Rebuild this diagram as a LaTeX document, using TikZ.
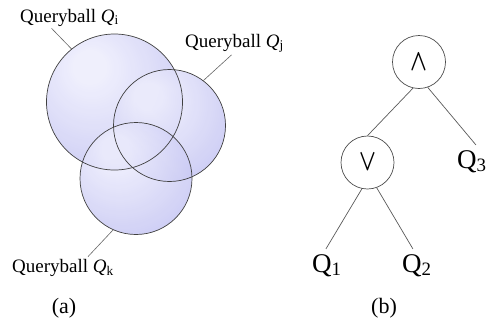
\documentclass[tikz,border=0pt]{standalone}
\usepackage{fontspec}
\setmainfont{Liberation Serif}
\usetikzlibrary{calc}
\definecolor{ballLight}{RGB}{236,236,252}
\definecolor{ballDark}{RGB}{168,168,236}
\colorlet{ballEdge}{black!75}
\colorlet{leadGray}{black!60}
\pgfdeclareradialshading{ballshade}{\pgfpoint{-10bp}{14bp}}{color(0bp)=(ballLight); color(6bp)=(ballLight); color(58bp)=(ballDark); color(80bp)=(ballDark)}
\newcommand{\opsym}[1]{\scalebox{2.2}[3.0]{\boldmath$#1$}}
\tikzstyle{ball}=[circle, inner sep=0pt, shade, shading=ballshade, fill opacity=0.85]
\tikzstyle{rim}=[draw=ballEdge, line width=0.7pt]
\tikzstyle{tag}=[inner sep=2pt, font=\fontsize{19}{22}\selectfont]
\tikzstyle{lead}=[draw=leadGray, line width=0.6pt]
\tikzstyle{op}=[circle, draw=black!70, line width=0.7pt, minimum size=53pt, inner sep=0pt]
\tikzstyle{leaf}=[inner sep=5pt, font=\fontsize{27}{30}\selectfont]
\tikzstyle{branch}=[draw=black!65, line width=0.7pt]
\tikzstyle{caption}=[inner sep=0pt, font=\fontsize{22}{24}\selectfont]

\begin{document}
\begin{tikzpicture}[x=1pt, y=-1pt]
				\useasboundingbox (0,0) rectangle (486,322);

				% (a) the three query balls
				\node[ball, minimum size=136pt] (qi) at (114.5,102) {};
				\node[ball, minimum size=112pt] (qj) at (169.5,125.5) {};
				\node[ball, minimum size=112pt] (qk) at (136,178.5) {};
				\foreach \b/\r in {qi/68, qj/56, qk/56}{ \draw[rim] (\b.center) circle[radius=\r pt]; }

				\node[tag, anchor=base west] (lbi) at (18,22) {Queryball \textit{Q}\textsubscript{i}};
				\node[tag, anchor=base west] (lbj) at (183,47) {Queryball \textit{Q}\textsubscript{j}};
				\node[tag, anchor=base west] (lbk) at (10,272) {Queryball \textit{Q}\textsubscript{k}};
				\draw[lead] ([xshift=-18pt]lbi.south) -- (qi.129);
				\draw[lead] ([xshift=-3pt]lbj.south) -- (qj.53);
				\draw[lead] ([xshift=25pt]lbk.north) -- (qk.246);

				\node[caption, anchor=base] (capa) at (64,313) {(a)};

				% (b) the query tree
				\node[op] (and) at (419,62) {\opsym{\wedge}};
				\node[op] (or) at (367.5,162.5) {\opsym{\vee}};
				\node[leaf, anchor=base west] (q1) at (307,272) {Q\textsubscript{1}};
				\node[leaf, anchor=base west] (q2) at (397,272) {Q\textsubscript{2}};
				\node[leaf, anchor=base west] (q3) at (452,168) {Q\textsubscript{3}};

				\draw[branch] (and.257) -- (or.90);
				\draw[branch] (and.289) -- ([xshift=4pt]q3.north);
				\draw[branch] (or.258) -- ([xshift=-1pt]q1.north);
				\draw[branch] (or.290) -- ([xshift=-4pt]q2.north);

				\node[caption, anchor=base] (capb) at (384,313) {(b)};
			\end{tikzpicture}
\end{document}
